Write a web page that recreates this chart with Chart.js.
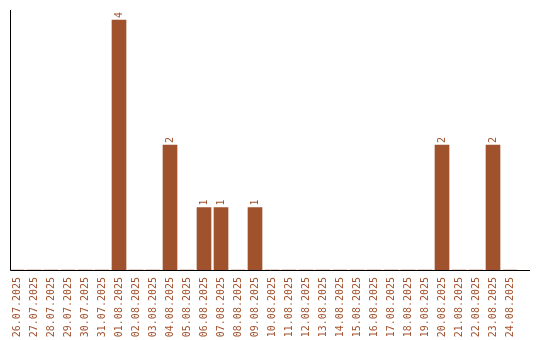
<!DOCTYPE html>
<html>
<head>
<meta charset="utf-8">
<script src="https://cdn.jsdelivr.net/npm/chart.js@4/dist/chart.umd.min.js"></script>
<style>
  html, body { margin: 0; padding: 0; background: #ffffff; }
  #wrap { width: 540px; height: 340px; position: relative; }
</style>
</head>
<body>
<div id="wrap"><canvas id="c" width="540" height="340"></canvas></div>
<script>
const categories = [
  "26.07.2025","27.07.2025","28.07.2025","29.07.2025","30.07.2025","31.07.2025",
  "01.08.2025","02.08.2025","03.08.2025","04.08.2025","05.08.2025","06.08.2025",
  "07.08.2025","08.08.2025","09.08.2025","10.08.2025","11.08.2025","12.08.2025",
  "13.08.2025","14.08.2025","15.08.2025","16.08.2025","17.08.2025","18.08.2025",
  "19.08.2025","20.08.2025","21.08.2025","22.08.2025","23.08.2025","24.08.2025"
];
const counts = [
  0,0,0,0,0,0,
  4,0,0,2,0,1,
  1,0,1,0,0,0,
  0,0,0,0,0,0,
  0,2,0,0,2,0
];

const COLOR = '#A0522D';
const FONT = '10px "DejaVu Sans Mono", "Liberation Mono", monospace';

const axisLines = {
  id: 'axisLines',
  afterDraw(chart) {
    const ctx = chart.ctx;
    const ca = chart.chartArea;
    ctx.save();
    ctx.strokeStyle = '#000000';
    ctx.lineWidth = 1;
    ctx.beginPath();
    ctx.moveTo(10.5, ca.top);
    ctx.lineTo(10.5, ca.bottom + 0.5);
    ctx.lineTo(530, ca.bottom + 0.5);
    ctx.stroke();
    ctx.restore();
  }
};

const valueLabels = {
  id: 'valueLabels',
  afterDatasetsDraw(chart) {
    const ctx = chart.ctx;
    const meta = chart.getDatasetMeta(0);
    ctx.save();
    ctx.fillStyle = COLOR;
    ctx.font = FONT;
    meta.data.forEach((bar, i) => {
      const v = counts[i];
      if (!v) return;
      ctx.save();
      ctx.translate(bar.x + 0.5, bar.y - 2);
      ctx.rotate(-Math.PI / 2);
      ctx.textAlign = 'left';
      ctx.textBaseline = 'middle';
      ctx.fillText(String(v), 0, 0);
      ctx.restore();
    });
    ctx.restore();
  }
};

new Chart(document.getElementById('c'), {
  type: 'bar',
  data: {
    labels: categories,
    datasets: [{
      data: counts,
      backgroundColor: COLOR,
      borderWidth: 0,
      barThickness: 14
    }]
  },
  options: {
    responsive: false,
    animation: false,
    devicePixelRatio: 1,
    layout: { padding: { left: 8.5, right: 21.5, top: 10, bottom: 0 } },
    plugins: { legend: { display: false }, tooltip: { enabled: false } },
    scales: {
      x: {
        offset: true,
        grid: { display: false, drawTicks: false },
        border: { display: false },
        ticks: {
          color: COLOR,
          font: { family: '"DejaVu Sans Mono", "Liberation Mono", monospace', size: 10 },
          minRotation: 90,
          maxRotation: 90,
          autoSkip: false,
          padding: 7
        },
        afterFit(scale) { scale.height = 70; }
      },
      y: {
        display: false,
        min: 0,
        max: 4.16
      }
    }
  },
  plugins: [axisLines, valueLabels]
});
</script>
</body>
</html>
